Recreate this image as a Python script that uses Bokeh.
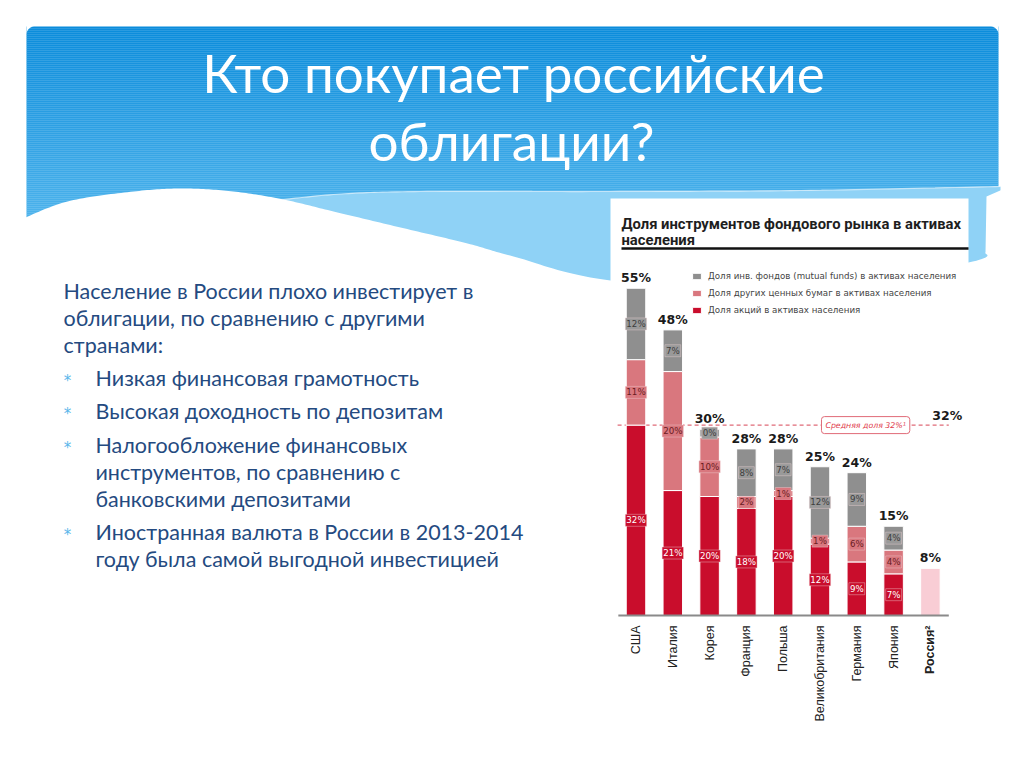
import numpy as np
from bokeh.plotting import figure
from bokeh.models import Range1d, ColumnDataSource, Legend, LegendItem
from bokeh.core.properties import value
from bokeh.embed import file_html
from bokeh.resources import INLINE

# ---------------- data ----------------
countries = ["США", "Италия", "Корея", "Франция", "Польша",
             "Великобритания", "Германия", "Япония", "Россия²"]
stocks = [32, 21, 20, 18, 20, 12, 9, 7, 8]        # Russia: only the total is known
other_securities = [11, 20, 10, 2, 1, 1, 6, 4, 0]
funds = [12, 7, 1.3, 8, 7, 12, 9, 4, 0]
totals = [55, 48, 30, 28, 28, 25, 24, 15, 8]
stock_labels = ["32%", "21%", "20%", "18%", "20%", "12%", "9%", "7%", ""]
other_labels = ["11%", "20%", "10%", "2%", "1%", "1%", "6%", "4%", ""]
fund_labels = ["12%", "7%", "0%", "8%", "7%", "12%", "9%", "4%", ""]
average = 32

series_names = ["Доля инв. фондов (mutual funds) в активах населения",
                "Доля других ценных бумаг в активах населения",
                "Доля акций в активах населения"]
chart_title = ["Доля инструментов фондового рынка в активах", "населения"]
avg_label = "Средняя доля 32%¹"

slide_title = ["Кто покупает российские", "облигации?"]
paragraphs = [
    (False, ["Население в России плохо инвестирует в",
             "облигации, по сравнению с другими",
             "странами:"]),
    (True, ["Низкая финансовая грамотность"]),
    (True, ["Высокая доходность по депозитам"]),
    (True, ["Налогообложение финансовых",
            "инструментов, по сравнению с",
            "банковскими депозитами"]),
    (True, ["Иностранная валюта в России в 2013-2014",
            "году была самой выгодной инвестицией"]),
]

# ---------------- layout constants (screen px) ----------------
W, H = 1008, 752
FL, FT = 0, 0
BAR0_PX, BAR_STEP = 635.5, 36.8
BASE_PX, PX_PER_PCT = 615.0, 5.95

p = figure(width=W, height=H, output_backend="svg", toolbar_location=None,
           x_range=Range1d(FL, FL + W), y_range=Range1d(FT + H, FT),
           x_axis_type=None, y_axis_type=None, min_border=0,
           outline_line_color=None, background_fill_color="white",
           border_fill_color="white")
p.grid.visible = False

cx0 = -(BAR0_PX - FL) / BAR_STEP
p.extra_x_ranges = {"cx": Range1d(cx0, cx0 + W / BAR_STEP)}
p.extra_y_ranges = {"pct": Range1d(-(FT + H - BASE_PX) / PX_PER_PCT,
                                   (BASE_PX - FT) / PX_PER_PCT)}

# ---------------- slide background ----------------
def hexmix(c1, c2, t):
    a = np.array([int(c1[i:i + 2], 16) for i in (1, 3, 5)])
    b = np.array([int(c2[i:i + 2], 16) for i in (1, 3, 5)])
    c = (a + (b - a) * t).round().astype(int)
    return "#%02x%02x%02x" % tuple(c)

ys = np.arange(26, 300, 2)
cols = [hexmix("#0b8cdb", "#62bff1", min(1.0, (y - 26) / 250)) for y in ys]
p.quad(left=26, right=998, top=ys, bottom=ys + 2.2, fill_color=cols, line_color=None)

# rounded top corners
r = 8
th = np.linspace(0, np.pi / 2, 12)
for cxp, sgn in [(26 + r, -1), (998 - r, 1)]:
    arc_x = cxp + sgn * r * np.cos(th)
    arc_y = 26 + r - r * np.sin(th)
    corner_x = 26 if sgn < 0 else 998
    px_ = [corner_x] + list(arc_x) + [corner_x]
    py_ = [25] + list(arc_y) + [25]
    p.patch(px_, py_, fill_color="white", line_color=None)

def catmull(pts, n=20):
    pts = np.array(pts, dtype=float)
    P = np.vstack([pts[0], pts, pts[-1]])
    out = []
    for i in range(1, len(P) - 2):
        p0, p1, p2, p3 = P[i - 1], P[i], P[i + 1], P[i + 2]
        for t in np.linspace(0, 1, n, endpoint=False):
            t2, t3 = t * t, t * t * t
            out.append(0.5 * ((2 * p1) + (-p0 + p2) * t + (2 * p0 - 5 * p1 + 4 * p2 - p3) * t2
                              + (-p0 + 3 * p1 - 3 * p2 + p3) * t3))
    out.append(pts[-1])
    return np.array(out)

# light ribbon
rib = catmull([(260, 202), (333, 194), (420, 191), (600, 191), (800, 190), (1000, 186)])
p.patch(list(rib[:, 0]) + [1000, 260], list(rib[:, 1]) + [320, 320],
        fill_color="#8fd2f6", line_color=None)
p.line(rib[:, 0], rib[:, 1], line_color="white", line_alpha=0.6, line_width=1.2)

# white wave
wave = catmull([(18, 220), (67, 201), (133, 191), (183, 188), (233, 191), (283, 199),
                (333, 211), (400, 227), (467, 243), (513, 256), (610, 280),
                (800, 292), (968, 262), (985, 252)])
wx = list(wave[:, 0]) + [986, 1002, 1002, 18]
wy = list(wave[:, 1]) + [196, 189, 330, 330]
p.patch(wx, wy, fill_color="white", line_color=None)

# slide title
p.text(x=[513, 511], y=[72, 140], text=slide_title, text_align="center",
       text_baseline="middle", text_color="white", text_font=value("Lato"),
       text_font_size="53px")

# body text
ty, bx, tx = 290.0, 67, 95
lx, ly, lt, bxs, bys = [], [], [], [], []
for bullet, lines in paragraphs:
    if bullet:
        bxs.append(bx); bys.append(ty + 3)
    for k, line in enumerate(lines):
        lx.append(tx if bullet else 63); ly.append(ty); lt.append(line)
        ty += 27.2
    ty += 6
p.text(x=lx, y=ly, text=lt, text_baseline="middle", text_color="#244a80",
       text_font=value("Lato"), text_font_size="21.5px")
p.text(x=bxs, y=bys, text=["*"] * len(bxs), text_align="center", text_baseline="middle",
       text_color="#5ab6ea", text_font=value("DejaVu Sans"), text_font_size="15px")

# ---------------- chart panel ----------------
p.quad(left=610, right=968, top=198, bottom=730, fill_color="white", line_color=None)
p.text(x=[621, 621], y=[223, 239], text=chart_title, text_baseline="middle",
       text_color="#1e1e1e", text_font=value("Roboto"), text_font_style="bold",
       text_font_size="14.8px")
p.segment(x0=[621], y0=[248], x1=[968], y1=[248], line_color="#111111", line_width=2.5)

idx = list(range(len(countries)))
s_top = [a for a in stocks]
o_top = [a + b for a, b in zip(stocks, other_securities)]
f_top = [a + b + c for a, b, c in zip(stocks, other_securities, funds)]
stock_colors = ["#c90d2c"] * (len(countries) - 1) + ["#f9cdd5"]

# average dashed line (behind bars)
p.segment(x0=[-0.5], y0=[average], x1=[8.5], y1=[average], x_range_name="cx",
          y_range_name="pct", line_color="#e06b78", line_width=1.3, line_dash="4 3")

src = ColumnDataSource(dict(x=idx, s0=[0] * len(idx), s1=s_top, o1=o_top, f1=f_top,
                            sc=stock_colors))
bw = 0.53
r_stock = p.vbar(x="x", bottom="s0", top="s1", width=bw, source=src, fill_color="sc",
                 line_color="white", line_width=1, x_range_name="cx", y_range_name="pct")
r_other = p.vbar(x="x", bottom="s1", top="o1", width=bw, source=src, fill_color="#d9777e",
                 line_color="white", line_width=1, x_range_name="cx", y_range_name="pct")
r_fund = p.vbar(x="x", bottom="o1", top="f1", width=bw, source=src, fill_color="#8f8f8f",
                line_color="white", line_width=1, x_range_name="cx", y_range_name="pct")

# baseline
p.segment(x0=[-0.48], y0=[0], x1=[8.5], y1=[0], x_range_name="cx", y_range_name="pct",
          line_color="#8a8a8a", line_width=2)

# segment labels
def seg_labels(lo, hi, labels, tcol, bg):
    xs, ym, tt = [], [], []
    for i, (a, b, t) in enumerate(zip(lo, hi, labels)):
        if t:
            xs.append(i); ym.append((a + b) / 2); tt.append(t)
    p.text(x=xs, y=ym, text=tt, x_range_name="cx", y_range_name="pct",
           text_align="center", text_baseline="middle", text_color=tcol,
           text_font=value("DejaVu Sans"), text_font_size="8.7px",
           background_fill_color=bg, border_line_color="#f3d6d9", border_line_alpha=0.4,
           padding=1)

seg_labels([0] * len(idx), s_top, stock_labels, "white", "#c90d2c")
seg_labels(s_top, o_top, other_labels, "#6a1c22", "#d9777e")
seg_labels(o_top, f_top, fund_labels, "#3d3d3d", "#999999")

# totals
p.text(x=idx, y=f_top, text=["%d%%" % t for t in totals], x_range_name="cx",
       y_range_name="pct", text_align="center", text_baseline="bottom", y_offset=-3,
       text_color="#1a1a1a", text_font=value("DejaVu Sans"), text_font_style="bold",
       text_font_size="12.5px")

# average annotations
p.text(x=[6.24], y=[average], text=[avg_label], x_range_name="cx", y_range_name="pct",
       text_align="center", text_baseline="middle", text_color="#e03a4a",
       text_font=value("DejaVu Sans"), text_font_style="italic", text_font_size="7.8px",
       background_fill_color="white", border_line_color="#e06b78", border_line_width=1,
       padding=4, border_radius=3)
p.text(x=[8.46], y=[average], text=["%d%%" % average], x_range_name="cx",
       y_range_name="pct", text_align="center", text_baseline="bottom", y_offset=-2,
       text_color="#1a1a1a", text_font=value("DejaVu Sans"), text_font_style="bold",
       text_font_size="12.5px")

# category labels
csrc = ColumnDataSource(dict(x=idx, y=[0] * len(idx), t=countries,
                             st=["normal"] * (len(idx) - 1) + ["bold"]))
p.text(x="x", y="y", text="t", source=csrc, x_range_name="cx", y_range_name="pct",
       angle=np.pi / 2, text_align="right", text_baseline="middle", y_offset=10,
       text_color="#222222", text_font=value("Liberation Sans"), text_font_style="st",
       text_font_size="12.5px")

# legend
legend = Legend(items=[LegendItem(label=series_names[0], renderers=[r_fund]),
                       LegendItem(label=series_names[1], renderers=[r_other]),
                       LegendItem(label=series_names[2], renderers=[r_stock])],
                location=(691 - FL, FT + H - 315), orientation="vertical", padding=0,
                margin=0, spacing=7, glyph_width=11, glyph_height=8, label_height=8,
                label_standoff=6, label_text_font="DejaVu Sans",
                label_text_font_size="8.7px", label_text_color="#444444",
                border_line_color=None, background_fill_alpha=0)
p.add_layout(legend)

open("out.html", "w").write(file_html(p, INLINE))
